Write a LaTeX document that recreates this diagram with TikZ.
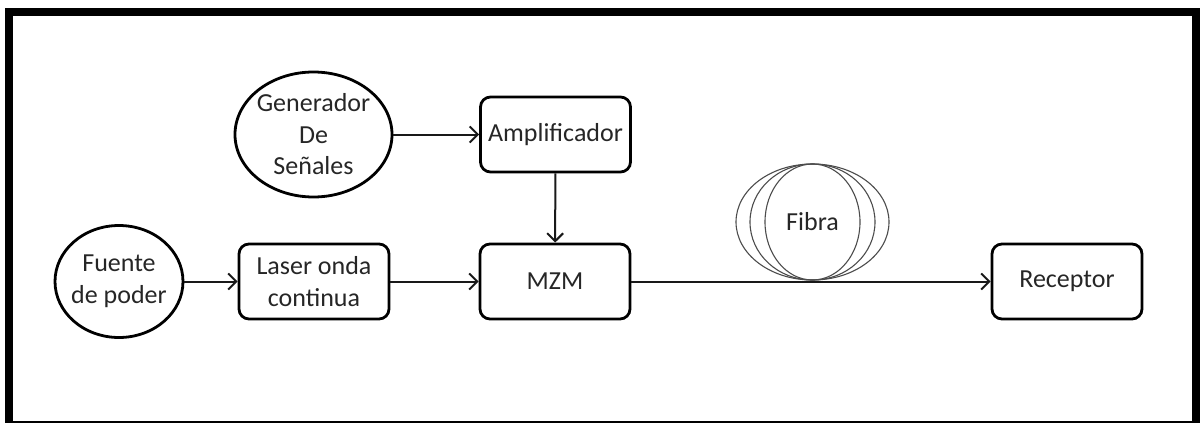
\documentclass[tikz,border=0pt]{standalone}
\usepackage{fontspec}
\setmainfont{Carlito}
\usetikzlibrary{arrows.meta,shapes.geometric}
\begin{document}
\begin{tikzpicture}[x=0.5pt,y=-0.5pt,
  lbl/.style={text=black!85, font=\fontsize{13}{15.75}\selectfont, align=center},
  box/.style={lbl, draw=black, rounded corners=5pt, line width=1.4pt, minimum width=75pt, minimum height=37.5pt, inner sep=0pt},
  oval/.style={lbl, draw=black, ellipse, line width=1.4pt, inner sep=-10pt},
  conn/.style={draw=black!90, line width=1pt, -{Straight Barb[length=4pt,width=8pt,line width=1pt]}},
  coil/.style={draw=black!70, line width=0.55pt}]
\useasboundingbox (0,0) rectangle (1200,423);
\clip (0,0) rectangle (1200,423);
\draw[line width=4pt] (9,11.5) rectangle (1196,425);

\node[oval, minimum width=78.5pt, minimum height=62.5pt] (gen) at (313.5,134.5) {Generador\\De\\Señales};
\node[box] (amp) at (555.5,134.5) {Amplificador};
\node[oval, minimum width=64pt, minimum height=56pt] (fue) at (119,281.5) {Fuente\\de poder};
\node[box] (las) at (314,281.5) {Laser onda\\continua};
\node[box] (mzm) at (555,281.5) {MZM};
\node[box] (rec) at (1067,281.5) {Receptor};
\node[lbl] (fib) at (812.5,222) {Fibra};
\draw[coil] (fib.center) ellipse [x radius=38.25pt, y radius=29pt];
\draw[coil] (fib.center) ellipse [x radius=31.25pt, y radius=29pt];
\draw[coil] (fib.center) ellipse [x radius=23.75pt, y radius=29pt];

\draw[conn] (gen) -- (amp);
\draw[conn] (amp) -- (mzm);
\draw[conn] (fue) -- (las);
\draw[conn] (las) -- (mzm);
\draw[conn] (mzm) -- (rec);
\end{tikzpicture}
\end{document}
